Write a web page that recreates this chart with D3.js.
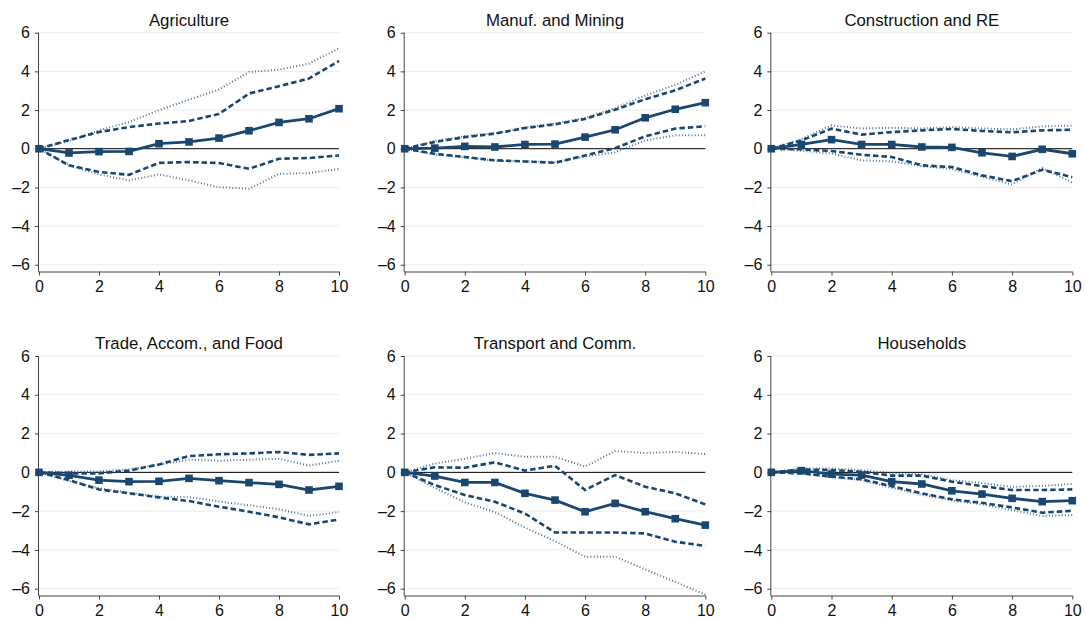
<!DOCTYPE html>
<html>
<head>
<meta charset="utf-8">
<script src="https://cdn.jsdelivr.net/npm/d3@7"></script>
<style>
  html, body { margin: 0; padding: 0; background: #fff; }
  svg { display: block; font-family: "Liberation Sans", Arial, Helvetica, sans-serif; }
</style>
</head>
<body>
<svg id="chart" width="1086" height="619"></svg>
<script>
// ---------------- DATA ----------------
const horizons = [0, 1, 2, 3, 4, 5, 6, 7, 8, 9, 10];
const panelTitles = ["Agriculture", "Manuf. and Mining", "Construction and RE",
                     "Trade, Accom., and Food", "Transport and Comm.", "Households"];
const yTicks = [-6, -4, -2, 0, 2, 4, 6];
const xTicks = [0, 2, 4, 6, 8, 10];

// point estimates
const estAgriculture   = [0, -0.22, -0.15, -0.14, 0.26, 0.35, 0.55, 0.93, 1.36, 1.55, 2.07];
const estManufacturing = [0, 0.03, 0.12, 0.09, 0.22, 0.24, 0.60, 0.98, 1.60, 2.04, 2.38];
const estConstruction  = [0, 0.22, 0.47, 0.22, 0.22, 0.09, 0.07, -0.21, -0.40, -0.03, -0.26];
const estTrade         = [0, -0.15, -0.40, -0.48, -0.46, -0.31, -0.43, -0.53, -0.62, -0.91, -0.72];
const estTransport     = [0, -0.19, -0.52, -0.52, -1.08, -1.43, -2.03, -1.60, -2.03, -2.39, -2.72];
const estHouseholds    = [0, 0.09, -0.09, -0.14, -0.48, -0.60, -0.95, -1.12, -1.34, -1.51, -1.46];

// inner band (dashed) upper / lower
const hiDashAgriculture   = [0, 0.45, 0.86, 1.12, 1.30, 1.43, 1.80, 2.85, 3.23, 3.63, 4.54];
const loDashAgriculture   = [0, -0.86, -1.20, -1.35, -0.73, -0.69, -0.74, -1.04, -0.52, -0.48, -0.35];
const hiDashManufacturing = [0, 0.35, 0.60, 0.78, 1.07, 1.26, 1.54, 2.02, 2.56, 3.02, 3.63];
const loDashManufacturing = [0, -0.26, -0.43, -0.60, -0.66, -0.73, -0.35, 0.03, 0.64, 1.04, 1.16];
const hiDashConstruction  = [0, 0.43, 1.04, 0.73, 0.86, 0.95, 1.02, 0.92, 0.85, 0.95, 0.98];
const loDashConstruction  = [0, -0.03, -0.12, -0.31, -0.43, -0.86, -0.95, -1.38, -1.68, -1.09, -1.47];
const hiDashTrade         = [0, -0.05, -0.05, 0.09, 0.41, 0.84, 0.93, 0.98, 1.05, 0.90, 0.98];
const loDashTrade         = [0, -0.40, -0.88, -1.08, -1.29, -1.48, -1.77, -2.03, -2.32, -2.68, -2.43];
const hiDashTransport     = [0, 0.26, 0.24, 0.52, 0.09, 0.34, -0.91, -0.14, -0.74, -1.08, -1.65];
const loDashTransport     = [0, -0.65, -1.17, -1.52, -2.12, -3.10, -3.10, -3.10, -3.15, -3.58, -3.79];
const hiDashHouseholds    = [0, 0.15, 0.12, 0.03, -0.17, -0.17, -0.48, -0.71, -0.91, -0.91, -0.88];
const loDashHouseholds    = [0, -0.05, -0.22, -0.36, -0.71, -1.08, -1.39, -1.57, -1.81, -2.08, -1.98];

// outer band (dotted) upper / lower
const hiDotAgriculture   = [0, 0.40, 0.95, 1.38, 1.99, 2.54, 3.06, 3.97, 4.09, 4.40, 5.20];
const loDotAgriculture   = [0, -0.86, -1.33, -1.64, -1.33, -1.64, -1.99, -2.07, -1.30, -1.26, -1.04];
const hiDotManufacturing = [0, 0.40, 0.65, 0.80, 1.10, 1.30, 1.60, 2.10, 2.75, 3.30, 4.00];
const loDotManufacturing = [0, -0.30, -0.45, -0.62, -0.65, -0.70, -0.40, -0.19, 0.43, 0.69, 0.70];
const hiDotConstruction  = [0, 0.50, 1.20, 1.05, 1.08, 1.05, 1.12, 1.05, 1.00, 1.15, 1.20];
const loDotConstruction  = [0, -0.10, -0.25, -0.60, -0.65, -0.90, -1.05, -1.45, -1.85, -1.00, -1.75];
const hiDotTrade         = [0, 0.05, 0.05, 0.15, 0.40, 0.65, 0.60, 0.65, 0.70, 0.35, 0.60];
const loDotTrade         = [0, -0.45, -0.82, -1.05, -1.25, -1.28, -1.50, -1.70, -1.90, -2.25, -2.05];
const hiDotTransport     = [0, 0.45, 0.70, 1.00, 0.80, 0.80, 0.30, 1.10, 1.00, 1.05, 0.95];
const loDotTransport     = [0, -0.80, -1.55, -2.05, -2.85, -3.55, -4.35, -4.35, -5.00, -5.65, -6.30];
const hiDotHouseholds    = [0, 0.20, 0.20, 0.12, -0.05, -0.10, -0.40, -0.55, -0.75, -0.70, -0.60];
const loDotHouseholds    = [0, -0.05, -0.25, -0.40, -0.80, -1.15, -1.45, -1.65, -1.95, -2.25, -2.20];

const panels = [
  { title: panelTitles[0], est: estAgriculture,   hiDash: hiDashAgriculture,   loDash: loDashAgriculture,   hiDot: hiDotAgriculture,   loDot: loDotAgriculture },
  { title: panelTitles[1], est: estManufacturing, hiDash: hiDashManufacturing, loDash: loDashManufacturing, hiDot: hiDotManufacturing, loDot: loDotManufacturing },
  { title: panelTitles[2], est: estConstruction,  hiDash: hiDashConstruction,  loDash: loDashConstruction,  hiDot: hiDotConstruction,  loDot: loDotConstruction },
  { title: panelTitles[3], est: estTrade,         hiDash: hiDashTrade,         loDash: loDashTrade,         hiDot: hiDotTrade,         loDot: loDotTrade },
  { title: panelTitles[4], est: estTransport,     hiDash: hiDashTransport,     loDash: loDashTransport,     hiDot: hiDotTransport,     loDot: loDotTransport },
  { title: panelTitles[5], est: estHouseholds,    hiDash: hiDashHouseholds,    loDash: loDashHouseholds,    hiDot: hiDotHouseholds,    loDot: loDotHouseholds }
];

// ---------------- LAYOUT ----------------
const navy = "#1a476f";
const colLeft  = [39, 404.7, 771.3];
const colRight = [339, 705.3, 1072.3];
const rowTop   = [32.7, 356];    // y position of value 6
const rowBottom = [271.5, 595.5];  // x-axis line position
const yMin = -6.35, yMax = 6;
const tickFont = 16, titleFont = 16.8;

const svg = d3.select("#chart");

panels.forEach((p, i) => {
  const c = i % 3, r = Math.floor(i / 3);
  const x = d3.scaleLinear().domain([0, 10]).range([colLeft[c], colRight[c]]);
  const y = d3.scaleLinear().domain([yMin, yMax]).range([rowBottom[r], rowTop[r]]);
  const g = svg.append("g");

  // gridlines
  g.selectAll(".grid").data(yTicks.filter(t => t !== 0)).enter().append("line")
    .attr("x1", x(0)).attr("x2", x(10))
    .attr("y1", d => y(d)).attr("y2", d => y(d))
    .attr("stroke", "#ececec").attr("stroke-width", 1);

  // zero line
  g.append("line").attr("x1", x(0)).attr("x2", x(10))
    .attr("y1", y(0)).attr("y2", y(0))
    .attr("stroke", "#000").attr("stroke-width", 1);

  // axes
  const yAxis = d3.axisLeft(y).tickValues(yTicks).tickSize(4).tickPadding(5)
    .tickFormat(d => d < 0 ? "\u2013" + Math.abs(d) : String(d));
  const ya = g.append("g").attr("transform", `translate(${x(0)},0)`).call(yAxis);
  ya.select(".domain").attr("d", `M-0.5,${y(yMax)}V${y(yMin)}`).attr("stroke", "#444");
  ya.selectAll(".tick line").attr("stroke", "#444");
  ya.selectAll(".tick text").attr("font-size", tickFont).attr("fill", "#111")
    .attr("font-family", "'Liberation Sans', Arial, sans-serif");

  const xAxis = d3.axisBottom(x).tickValues(xTicks).tickSize(4).tickPadding(5);
  const xa = g.append("g").attr("transform", `translate(0,${y(yMin)})`).call(xAxis);
  xa.select(".domain").attr("d", `M${x(0) - 0.5},0.5H${x(10)}`).attr("stroke", "#444");
  xa.selectAll(".tick line").attr("stroke", "#444");
  xa.selectAll(".tick text").attr("font-size", tickFont).attr("fill", "#111")
    .attr("font-family", "'Liberation Sans', Arial, sans-serif");

  // title
  g.append("text").attr("x", (x(0) + x(10)) / 2).attr("y", rowTop[r] - 7.2)
    .attr("text-anchor", "middle").attr("font-size", titleFont).attr("fill", "#111")
    .text(p.title);

  const line = d3.line().x((d, k) => x(horizons[k])).y(d => y(d));

  // dotted outer band
  [p.hiDot, p.loDot].forEach(arr => {
    g.append("path").datum(arr).attr("d", line)
      .attr("fill", "none").attr("stroke", navy).attr("stroke-opacity", 0.75)
      .attr("stroke-width", 2).attr("stroke-dasharray", "1,2.2");
  });
  // dashed inner band
  [p.hiDash, p.loDash].forEach(arr => {
    g.append("path").datum(arr).attr("d", line)
      .attr("fill", "none").attr("stroke", navy)
      .attr("stroke-width", 2.6).attr("stroke-dasharray", "5.5,3");
  });
  // point estimate
  g.append("path").datum(p.est).attr("d", line)
    .attr("fill", "none").attr("stroke", navy).attr("stroke-width", 2.8);
  g.selectAll(".mk").data(p.est).enter().append("rect")
    .attr("x", (d, k) => x(horizons[k]) - 3.8).attr("y", d => y(d) - 3.8)
    .attr("width", 7.6).attr("height", 7.6).attr("fill", navy);
});
</script>
</body>
</html>
